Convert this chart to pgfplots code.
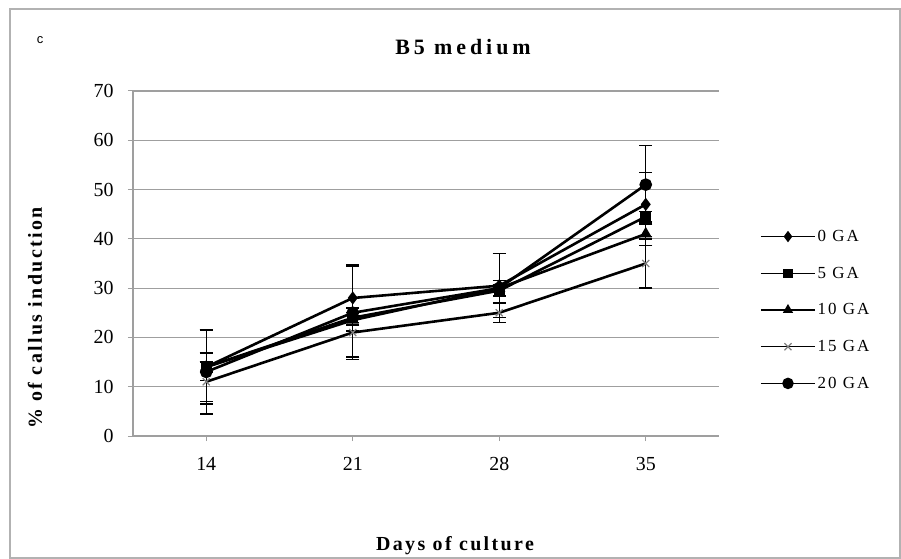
\documentclass[border=0pt]{standalone}
\usepackage{fontspec}
\setmainfont{Liberation Serif}
\newfontfamily\lblfont[LetterSpace=12]{Liberation Serif}
\newfontfamily\titlefont[LetterSpace=18]{Liberation Serif}
\newfontfamily\sanslbl{Liberation Sans}
\usepackage{pgfplots}
\pgfplotsset{compat=1.18}
\begin{document}
\begin{tikzpicture}
\useasboundingbox (-133bp,-123bp) rectangle (768bp,436bp);
\draw[gray!60, line width=1.5bp] (-123bp,-122bp) rectangle (767bp,427bp);
\begin{axis}[
  at={(0,0)}, anchor=south west,
  scale only axis, width=586bp, height=345bp,
  xmin=-0.5, xmax=3.5, ymin=0, ymax=70,
  xtick={0,1,2,3}, xticklabels={14,21,28,35},
  ytick={0,10,...,70},
  axis x line*=bottom, axis y line*=left,
  axis line style={-, gray!75, line width=1.2bp},
  ymajorgrids, grid style={gray!75, line width=1.2bp},
  tick style={gray!75, line width=1bp},
  tick align=outside, major tick length=5bp,
  /pgf/number format/assume math mode=true,
  ticklabel style={font=\fontsize{20}{20}\selectfont},
  yticklabel style={xshift=-11bp},
  xticklabel style={yshift=-13bp},
  clip=false,
  error bars/error bar style={line width=1.4bp, black},
  error bars/error mark options={line width=1.4bp, black, rotate=90, mark size=6.5bp},
  legend style={at={(1.07,0.603)}, anchor=north west, draw=none, fill=none,
    font=\fontsize{17}{17}\selectfont\lblfont, row sep=20bp, inner sep=0pt,
    legend cell align=left},
  legend image code/.code={\draw[mark repeat=2,mark phase=2,#1, line width=1.5bp] plot coordinates {(0bp,0bp)(27bp,0bp)(54bp,0bp)};},
]
\addplot[black, line width=2.6bp, mark=diamond*, mark size=4.5bp, mark options={black, solid},
  error bars/.cd, y dir=both, y explicit]
  coordinates {(0,14) +- (0,7.5) (1,28) +- (0,6.7) (2,30.5) +- (0,6.5) (3,47) +- (0,6.5)};
\addlegendentry{0 GA}
\addplot[black, line width=2.6bp, mark=square*, mark size=4bp, mark options={black, solid},
  error bars/.cd, y dir=both, y explicit]
  coordinates {(0,14) +- (0,2.8) (1,24) +- (0,1) (2,29.5) +- (0,1.2) (3,44.5) +- (0,1)};
\addlegendentry{5 GA}
\addplot[black, line width=2.6bp, mark=triangle*, mark size=4.5bp, mark options={black, solid},
  error bars/.cd, y dir=both, y explicit]
  coordinates {(0,14) +- (0,1) (1,23.5) +- (0,1) (2,30) +- (0,1.5) (3,41) +- (0,2.3)};
\addlegendentry{10 GA}
\addplot[black, line width=2.6bp, mark=x, mark size=5bp, mark options={gray, solid, line width=1.2bp},
  error bars/.cd, y dir=both, y explicit]
  coordinates {(0,11) +- (0,4) (1,21) +- (0,5) (2,25) +- (0,2) (3,35) +- (0,5)};
\addlegendentry{15 GA}
\addplot[black, line width=2.6bp, mark=*, mark size=5bp, mark options={black, solid},
  error bars/.cd, y dir=both, y explicit]
  coordinates {(0,13) +- (0,8.5) (1,25) +- (0,9.5) (2,30) +- (0,7) (3,51) +- (0,8)};
\addlegendentry{20 GA}
\end{axis}
\node[font=\fontsize{22}{22}\selectfont\bfseries\titlefont] at (330bp,389bp) {B5 medium};
\node[font=\fontsize{20}{20}\selectfont\bfseries\lblfont] at (322bp,-110bp) {Days of culture};
\node[font=\fontsize{20}{20}\selectfont\bfseries\lblfont, rotate=90] at (-98bp,118bp) {\% of callus induction};
\node[font=\fontsize{13}{13}\selectfont\sanslbl] at (-93bp,396bp) {c};
\end{tikzpicture}
\end{document}
